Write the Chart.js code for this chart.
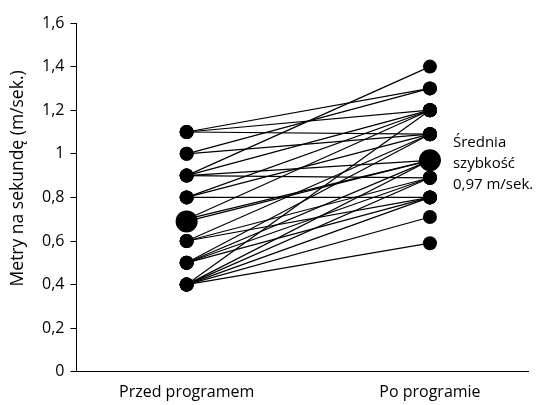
<!DOCTYPE html>
<html>
<head>
<meta charset="utf-8">
<script src="https://cdn.jsdelivr.net/npm/chart.js@4.4.0/dist/chart.umd.min.js"></script>
<style>
  html, body { margin: 0; padding: 0; background: #fff; }
  #wrap { width: 539px; height: 405px; }
</style>
</head>
<body>
<div id="wrap"><canvas id="pairsChart"></canvas></div>
<script>
const categories = ['Przed programem', 'Po programie'];
// each participant: speed before and after the programme (m/s)
const before = [1.1, 1.1, 1.1, 1.0, 1.0, 0.9, 0.9, 0.9, 0.9, 0.8, 0.8, 0.8, 0.7, 0.7, 0.6, 0.6, 0.6, 0.5, 0.5, 0.5, 0.5, 0.4, 0.4, 0.4, 0.4, 0.4, 0.4];
const after  = [1.3, 1.2, 1.09, 1.3, 1.09, 1.4, 1.2, 0.97, 0.89, 1.2, 1.09, 0.8, 1.2, 0.97, 1.09, 0.89, 0.8, 1.09, 0.97, 0.89, 0.8, 1.2, 0.97, 0.89, 0.8, 0.71, 0.59];
const meanValues = [0.69, 0.97];
const meanNote = ['Średnia', 'szybkość', '0,97 m/sek.'];
const yTicks = [0, 0.2, 0.4, 0.6, 0.8, 1, 1.2, 1.4, 1.6];
const yTitle = 'Metry na sekundę (m/sek.)';

const FONT = '"Open Sans", "DejaVu Sans", sans-serif';

const datasets = before.map((b, i) => ({
    data: [{x: 0, y: b}, {x: 1, y: after[i]}],
    showLine: true,
    borderColor: '#000',
    borderWidth: 1.2,
    pointRadius: 7,
    pointBackgroundColor: '#000',
    pointBorderWidth: 0
}));
datasets.push({
    data: meanValues.map((v, i) => ({x: i, y: v})),
    showLine: true,
    borderColor: '#000',
    borderWidth: 1.2,
    pointRadius: 11,
    pointBackgroundColor: '#000',
    pointBorderWidth: 0
});

// note next to the "after" mean point + y title (sits a bit above centre)
const extraText = {
    id: 'extraText',
    afterDatasetsDraw(chart) {
        const {ctx, scales, chartArea} = chart;
        const x = scales.x.getPixelForValue(1) + 23;
        const y = scales.y.getPixelForValue(meanValues[1]) + 3;
        ctx.save();
        ctx.fillStyle = '#000';
        ctx.font = '15px ' + FONT;
        ctx.textBaseline = 'middle';
        ctx.textAlign = 'left';
        meanNote.forEach((t, i) => ctx.fillText(t, x, y + (i - 1) * 21));

        ctx.translate(18, (chartArea.top + chartArea.bottom) / 2 - 19);
        ctx.rotate(-Math.PI / 2);
        ctx.font = '17.5px ' + FONT;
        ctx.textAlign = 'center';
        ctx.fillText(yTitle, 0, 0);
        ctx.restore();
    }
};

const ctx = document.getElementById('pairsChart').getContext('2d');
const pairsChart = new Chart(ctx, {
    type: 'scatter',
    data: { datasets: datasets },
    options: {
        responsive: true,
        maintainAspectRatio: false,
        animation: false,
        layout: { padding: { top: 23, right: 0, bottom: -8, left: 36 } },
        plugins: { legend: { display: false }, tooltip: { enabled: false } },
        scales: {
            x: {
                type: 'linear',
                min: -0.453,
                max: 1.403,
                afterBuildTicks: axis => { axis.ticks = [{value: 0}, {value: 1}]; },
                ticks: {
                    callback: v => categories[v],
                    color: '#000',
                    font: { family: FONT, size: 16 },
                    padding: 11,
                    maxRotation: 0
                },
                grid: { display: false, drawTicks: false },
                border: { display: true, color: '#000', width: 1 }
            },
            y: {
                min: 0,
                max: 1.6,
                afterBuildTicks: axis => { axis.ticks = yTicks.map(v => ({value: v})); },
                ticks: {
                    callback: v => String(Math.round(v * 10) / 10).replace('.', ','),
                    color: '#000',
                    font: { family: FONT, size: 16 },
                    padding: 6
                },
                grid: { drawOnChartArea: false, drawTicks: true, tickLength: 6, color: '#000' },
                border: { display: true, color: '#000', width: 1 }
            }
        }
    },
    plugins: [extraText]
});
</script>
</body>
</html>
